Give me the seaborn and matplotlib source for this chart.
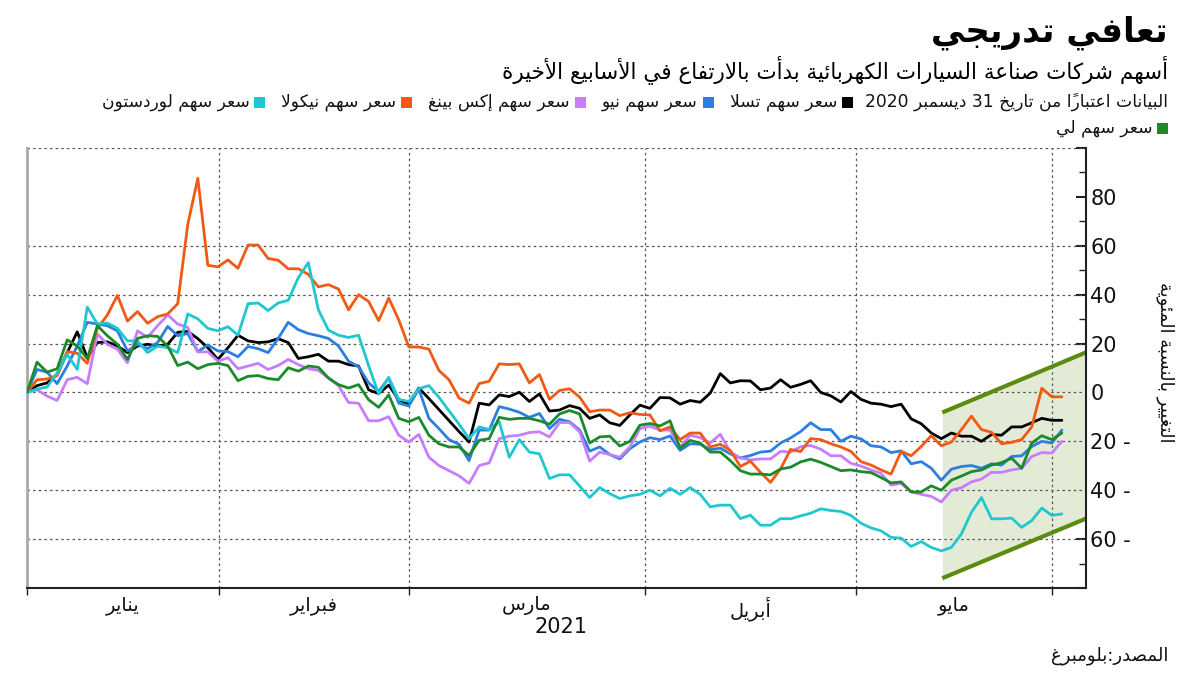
import numpy as np
import pandas as pd
import matplotlib
matplotlib.use("Agg")
import matplotlib.pyplot as plt
import seaborn as sns
from matplotlib.patches import Rectangle

# ---------------- data (percent change since 31 Dec 2020, one value per trading day) ----------------
tesla = [0, 2.8, 3.9, 7.3, 16.3, 24.8, 14.2, 20.4, 20.7, 19, 16.3, 19, 19.7, 19, 19.7, 24.6, 25, 22, 18.3, 13.5,
         18.3, 23.4, 21.1, 20.4, 20.7, 22, 20.4, 13.9, 14.6, 15.6, 12.8, 12.8, 11.4, 10.8, 1.1, -0.5, 3, -3, -4.7, 1.8,
         -2.5, -7, -11.5, -16, -20.3, -4.4, -5.1, -1, -1.7, 0.1, -3.7, -0.6, -7.6, -7.2, -5.4, -6.5, -10.6, -9.2, -12.4, -13.5,
         -9.2, -5.2, -6.5, -2.1, -2.2, -4.8, -3.3, -4, -0.3, 7.7, 3.9, 4.8, 4.7, 1.1, 1.8, 5.2, 2.1, 3.3, 4.8, 0,
         -1.4, -3.9, 0.4, -2.8, -4.4, -4.8, -5.8, -4.8, -10.8, -12.8, -16.6, -18.9, -16.6, -17.9, -17.9, -20, -17.2, -17.5, -14.1, -14.1,
         -12.4, -10.6, -11.4, -11.4]
nio = [0, 9.4, 8.3, 3.6, 10.8, 19, 28.7, 28, 27.3, 25.2, 17, 19.7, 17.9, 20.4, 27, 23.2, 24.1, 16.7, 19.4, 17,
       16.7, 14.6, 18.8, 17.9, 16.3, 22.1, 28.7, 25.7, 24.1, 23.2, 22.1, 19, 12.8, 10.5, 3.9, 0.4, 5.9, -4.4, -5.5, 1.4,
       -10.6, -14.8, -19.3, -21.2, -27.9, -15.4, -15.4, -5.8, -6.8, -8.1, -10.2, -8.6, -14.8, -11, -12, -15.4, -24, -22.3, -25.4, -27.2,
       -23, -20.3, -18.5, -19.3, -17.8, -23.7, -21, -21.2, -23.4, -22.8, -25.1, -26.8, -25.8, -24.4, -24, -20.7, -18.6, -16, -12.4, -15.2,
       -15.2, -20, -17.9, -19, -21.8, -22.3, -24.6, -23.9, -29.2, -28.3, -31, -35.9, -31.4, -30.3, -29.9, -31, -29.2, -29.7, -26.2, -25.9,
       -22.1, -20, -20.7, -15.4]
xpeng = [0, 1.1, -1.5, -3.3, 5.2, 6.2, 3.6, 23.9, 19.7, 17.7, 12.1, 25.2, 22.5, 27.3, 31.7, 28, 26.6, 16.6, 16.6, 12.8,
         14.2, 9.7, 10.8, 11.9, 9.4, 11, 13.5, 11.4, 9.7, 9, 5.9, 2.8, -4.1, -4.4, -11.6, -11.6, -9.9, -17.5, -20.3, -17.2,
         -26.5, -29.9, -32, -34.1, -37.2, -29.9, -28.8, -18.9, -17.9, -17.5, -16.4, -16.1, -18.2, -12.3, -12.3, -16.1, -28.1, -24.4, -25.4, -26.5,
         -22.3, -14.8, -13.8, -15.4, -15.4, -22.3, -17.5, -18.5, -20.7, -17.1, -24.4, -26.8, -27.6, -27.2, -27.2, -24.1, -24.4, -22.2, -21.7, -23.2,
         -25.9, -25.9, -29, -30.1, -31.7, -33.1, -37.9, -37.2, -40.7, -41.7, -42.5, -44.8, -40, -39, -36.6, -35.4, -32.7, -32.7, -31.7, -31,
         -26.2, -24.6, -24.8, -20]
nikola = [0, 5.2, 5.5, 6.9, 16.7, 16, 11.9, 26.2, 31.7, 39.7, 29.2, 33.1, 28.3, 31, 32.1, 36.3, 68.7, 87.6, 52, 51.4,
          54.2, 50.8, 60.3, 60.3, 54.8, 54.1, 50.6, 50.6, 48.3, 43.2, 44.1, 42.3, 33.8, 40, 37.2, 29.4, 38.6, 29.7, 18.6, 18.6,
          17.7, 9, 5.2, -2.3, -4.4, 3.6, 4.6, 11.7, 11.4, 11.7, 3.9, 7.3, -2.8, 0.8, 1.5, -1.9, -7.9, -7.2, -7.2, -9.5,
          -8.3, -9, -9.2, -15.7, -14.1, -19.3, -16.6, -16.6, -22.3, -21.2, -23.7, -30.3, -28.1, -32.7, -36.8, -31.3, -23.3, -24.2, -18.9, -19.3,
          -21, -22.3, -24.1, -28.3, -29.7, -31.7, -33.4, -24.1, -25.9, -22.1, -17.7, -21.8, -20.3, -15.2, -9.7, -15.2, -16.3, -21, -20.4, -19.3,
          -14.1, 1.7, -1.8, -1.8]
lordstown = [0, 1.4, 2.2, 8, 15.6, 9.4, 34.9, 28, 28.4, 26.2, 21.1, 21.1, 16.3, 19, 18.3, 16.3, 32.1, 30.1, 26.2, 25.2,
             26.9, 23.4, 36.3, 36.6, 33.5, 36.6, 37.7, 46.9, 53.1, 33.8, 25.5, 23.4, 22.5, 23.4, 11, -0.7, 6.2, -2.8, -3.7, 1.5,
             2.8, -2, -7.5, -13, -18.9, -14.1, -15.2, -12, -26.5, -19.3, -24.4, -25.1, -35.2, -33.7, -33.7, -38.3, -43, -38.9, -41.4, -43.4,
             -42.3, -41.7, -40, -42.3, -39.2, -41.7, -38.9, -41.7, -46.8, -46.1, -46.1, -51.6, -50.2, -54.3, -54.3, -51.6, -51.7, -50.5, -49.4, -47.6,
             -48.3, -48.7, -50.3, -53.5, -55.4, -56.6, -59.3, -59.6, -63, -61, -63.4, -64.8, -63.4, -57.9, -49, -43, -51.7, -51.7, -51.4, -55.2,
             -52.4, -47.3, -50.3, -49.7]
li_auto = [0, 12.4, 8.3, 9.7, 21.5, 19, 13.8, 27.3, 23.2, 19.7, 13.5, 22.1, 23.2, 22.9, 19, 11, 12.4, 9.7, 11.4, 11.9,
           11, 4.8, 6.6, 6.9, 5.7, 5.2, 10.1, 8.7, 10.8, 10.3, 5.9, 3.2, 1.8, 3.2, -3, -6.1, -1, -10.6, -12, -10.2,
           -17.5, -21, -22.3, -22.3, -25.8, -19.6, -18.9, -10.2, -11, -10.6, -10.6, -11.6, -13, -8.8, -7.4, -8.8, -20.7, -18.2, -17.9, -21.9,
           -20, -13.4, -12.7, -13.7, -11.6, -22.8, -19.6, -20.7, -24.4, -24.4, -27.9, -32, -33.4, -33.4, -33.7, -31.3, -30.6, -28.4, -27.3, -28.6,
           -30.3, -32, -31.7, -32.4, -32.8, -34.8, -37, -36.6, -40.7, -40.7, -38.2, -40, -35.9, -34.2, -32.4, -31.7, -29.7, -28.7, -26.9, -31,
           -20.7, -17.7, -19.3, -16.6]

series_names = ["سعر سهم تسلا", "سعر سهم نيو", "سعر سهم إكس بينغ", "سعر سهم نيكولا", "سعر سهم لوردستون", "سعر سهم لي"]
series_values = [tesla, nio, xpeng, nikola, lordstown, li_auto]
series_colors = ["#000000", "#2b7fe0", "#c77dff", "#f05a14", "#1fc8cf", "#1b8a2b"]

month_labels = ["يناير", "فبراير", "مارس", "أبريل", "مايو"]
month_bounds = [0, 19.1, 38.0, 61.5, 82.5, 102.0]   # month boundaries on the trading-day axis
year_label = "2021"

# recovery channel (trend band)
band_x = [91.1, 105.4]
band_upper = [-8.2, 16.4]
band_lower = [-76.0, -51.6]

y_ticks = [-80, -60, -40, -20, 0, 20, 40, 60, 80, 100]
y_grid = [100, 60, 40, 20, 0, -20, -40, -60]

title = "تعافي تدريجي"
subtitle = "أسهم شركات صناعة السيارات الكهربائية بدأت بالارتفاع في الأسابيع الأخيرة"
note = "البيانات اعتباراً من تاريخ 31 ديسمبر 2020"
ylabel = "التغيير بالنسبة المئوية"
source = "المصدر:بلومبرغ"

# ---------------- minimal Arabic shaping + RTL ordering ----------------
AR = {
    '\u0621': (0xFE80, 1), '\u0622': (0xFE81, 2), '\u0623': (0xFE83, 2), '\u0624': (0xFE85, 2),
    '\u0625': (0xFE87, 2), '\u0626': (0xFE89, 4), '\u0627': (0xFE8D, 2), '\u0628': (0xFE8F, 4),
    '\u0629': (0xFE93, 2), '\u062A': (0xFE95, 4), '\u062B': (0xFE99, 4), '\u062C': (0xFE9D, 4),
    '\u062D': (0xFEA1, 4), '\u062E': (0xFEA5, 4), '\u062F': (0xFEA9, 2), '\u0630': (0xFEAB, 2),
    '\u0631': (0xFEAD, 2), '\u0632': (0xFEAF, 2), '\u0633': (0xFEB1, 4), '\u0634': (0xFEB5, 4),
    '\u0635': (0xFEB9, 4), '\u0636': (0xFEBD, 4), '\u0637': (0xFEC1, 4), '\u0638': (0xFEC5, 4),
    '\u0639': (0xFEC9, 4), '\u063A': (0xFECD, 4), '\u0641': (0xFED1, 4), '\u0642': (0xFED5, 4),
    '\u0643': (0xFED9, 4), '\u0644': (0xFEDD, 4), '\u0645': (0xFEE1, 4), '\u0646': (0xFEE5, 4),
    '\u0647': (0xFEE9, 4), '\u0648': (0xFEED, 2), '\u0649': (0xFEEF, 2), '\u064A': (0xFEF1, 4),
}
LIG = {'\u0622': 0xFEF5, '\u0623': 0xFEF7, '\u0625': 0xFEF9, '\u0627': 0xFEFB}


def is_mark(c):
    return '\u064B' <= c <= '\u065F' or c == '\u0670'


def ar(s):
    clusters = []
    i = 0
    while i < len(s):
        c = s[i]
        if is_mark(c) and clusters:
            clusters[-1]['marks'] += c
            i += 1
            continue
        if c == '\u0644' and i + 1 < len(s) and s[i + 1] in LIG:
            clusters.append({'start': LIG[s[i + 1]], 'n': 2, 'ch': None, 'marks': ''})
            i += 2
            continue
        if c in AR:
            st, n = AR[c]
            clusters.append({'start': st, 'n': n, 'ch': c, 'marks': ''})
        else:
            clusters.append({'start': None, 'n': 0, 'ch': c, 'marks': ''})
        i += 1
    for k, cl in enumerate(clusters):
        if cl['start'] is None:
            cl['glyph'] = cl['ch']
            continue
        prev = clusters[k - 1] if k > 0 else None
        nxt = clusters[k + 1] if k + 1 < len(clusters) else None
        jp = prev is not None and prev['n'] == 4 and cl['n'] >= 2
        jn = cl['n'] == 4 and nxt is not None and nxt['n'] >= 2
        if cl['n'] == 1:
            off = 0
        elif jp and jn:
            off = 3
        elif jp:
            off = 1
        elif jn:
            off = 2
        else:
            off = 0
        cl['glyph'] = chr(cl['start'] + off)

    def is_ltr(cl):
        return cl['start'] is None and cl['ch'].isascii() and cl['ch'].isalnum()

    runs = []
    for cl in clusters:
        t = is_ltr(cl)
        if runs and runs[-1][0] == t:
            runs[-1][1].append(cl)
        else:
            runs.append([t, [cl]])
    out = ''
    for t, cls in reversed(runs):
        seq = cls if t else list(reversed(cls))
        out += ''.join(c['glyph'] + c['marks'] for c in seq)
    return out


# ---------------- figure ----------------
sns.set_theme(style="white")
plt.rcParams['font.family'] = ['DejaVu Sans']
W, H = 1200, 675
fig = plt.figure(figsize=(12, 6.75), dpi=100)
fig.patch.set_facecolor("white")
ax = fig.add_axes([27 / W, 1 - 588 / H, (1086 - 27) / W, (588 - 148) / H])
ax.set_facecolor("white")

# band
ax.fill_between(band_x, band_lower, band_upper, color="#e3ebd7", lw=0, zorder=1)
ax.plot(band_x, band_upper, color="#5b8c10", lw=3, zorder=2, solid_capstyle="butt")
ax.plot(band_x, band_lower, color="#5b8c10", lw=3, zorder=2, solid_capstyle="butt")

# grid
for yv in y_grid:
    ax.axhline(yv, color="#555555", lw=0.9, ls=(0, (2, 2.5)), zorder=1.5)
for xv in month_bounds[1:]:
    ax.axvline(xv, color="#555555", lw=0.9, ls=(0, (2, 2.5)), zorder=1.5)

# lines
n = len(tesla)
df = pd.concat([pd.DataFrame({"day": np.arange(n), "value": v, "series": name})
                for name, v in zip(series_names, series_values)], ignore_index=True)
sns.lineplot(data=df, x="day", y="value", hue="series", hue_order=series_names,
             palette=dict(zip(series_names, series_colors)), estimator=None,
             lw=2, legend=False, ax=ax, zorder=3)

ax.set_xlim(0, 105.4)
ax.set_ylim(-80, 100)
ax.set_xlabel("")
ax.set_ylabel("")

# spines
ax.spines["top"].set_visible(False)
ax.spines["left"].set_color("#aaaaaa")
ax.spines["left"].set_linewidth(2)
ax.spines["bottom"].set_color("#222222")
ax.spines["bottom"].set_linewidth(1.5)
ax.spines["right"].set_color("#222222")
ax.spines["right"].set_linewidth(1.5)

# y axis on right
ax.yaxis.tick_right()
ax.set_yticks(y_ticks)
ylabels = []
for v in y_ticks:
    if v in (-80, 100):
        ylabels.append("")
    elif v < 0:
        ylabels.append(f"{abs(v)} -")
    else:
        ylabels.append(f"{v}")
ax.set_yticklabels(ylabels, fontsize=15, color="#111111")
ax.set_yticks(np.arange(-70, 100, 20), minor=True)
ax.tick_params(axis="y", which="major", direction="in", length=7, width=1.5, color="#222222", pad=3,
               left=False, right=True)
ax.tick_params(axis="y", which="minor", direction="in", length=5, width=1, color="#222222",
               left=False, right=True)

# x axis: boundaries as major ticks, month names centred between them
mids = [(a + b) / 2 for a, b in zip(month_bounds[:-1], month_bounds[1:])]
ax.set_xticks(month_bounds)
ax.set_xticklabels([""] * len(month_bounds))
ax.set_xticks(mids, minor=True)
ax.set_xticklabels([ar(m) for m in month_labels], minor=True, fontsize=14, color="#111111")
ax.tick_params(axis="x", which="major", direction="out", length=5, width=1, color="#222222", bottom=True)
ax.tick_params(axis="x", which="minor", length=0, pad=6, bottom=True)

# texts
fig.text(1168 / W, 1 - 33 / H, ar(title), ha="right", va="center", fontsize=24.5, fontweight="bold", color="#000000")
fig.text(1168 / W, 1 - 70 / H, ar(subtitle), ha="right", va="center", fontsize=15.5, color="#000000")
fig.text(561 / W, 1 - 627 / H, year_label, ha="center", va="center", fontsize=15, color="#111111")
fig.text(1168 / W, 1 - 656 / H, ar(source), ha="right", va="center", fontsize=13, color="#111111")
fig.text(1165 / W, 1 - 362 / H, ar(ylabel), ha="center", va="center", rotation=-90, fontsize=13, color="#111111")

# legend (right-to-left rows)
fig.canvas.draw()
rend = fig.canvas.get_renderer()
LEG_FS = 12.3
SQ = 11


def put_text(x_right, y, s):
    t = fig.text(x_right / W, 1 - y / H, ar(s), ha="right", va="center", fontsize=LEG_FS, color="#111111")
    return t.get_window_extent(rend).width


def put_square(x_right, y, color):
    fig.patches.append(Rectangle(((x_right - SQ) / W, 1 - (y + SQ / 2) / H), SQ / W, SQ / H,
                                 transform=fig.transFigure, facecolor=color, edgecolor="none"))


row_y = 102
x = 1168
x -= put_text(x, row_y, note) + 12
for name, col in list(zip(series_names, series_colors))[:5]:
    put_square(x, row_y, col)
    x -= SQ + 5
    x -= put_text(x, row_y, name) + 16

row2_y = 128
x = 1168
put_square(x, row2_y, series_colors[5])
x -= SQ + 5
put_text(x, row2_y, series_names[5])

fig.savefig("out.png", dpi=100, facecolor="white")
